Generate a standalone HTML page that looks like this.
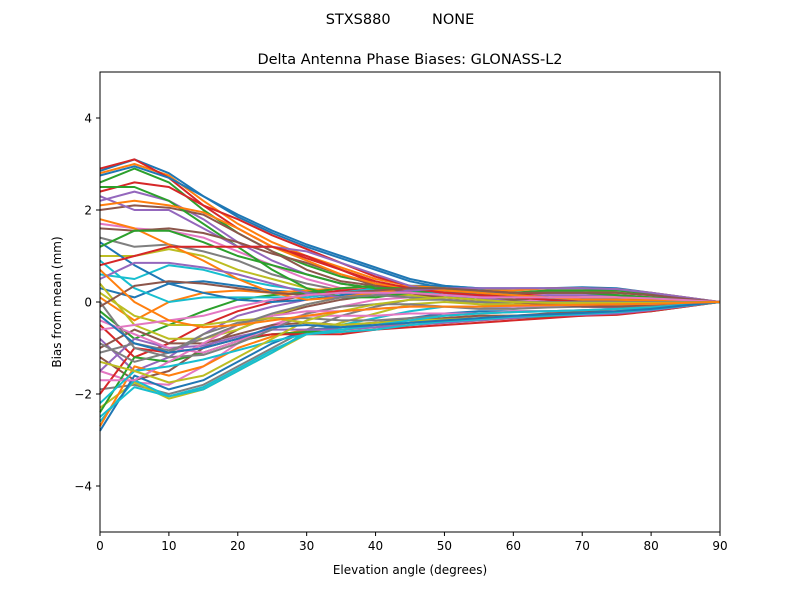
<!DOCTYPE html>
<html><head><meta charset="utf-8"><style>
body{margin:0;background:#fff;font-family:"Liberation Sans","DejaVu Sans",sans-serif;}
svg text{font-family:"DejaVu Sans","Liberation Sans",sans-serif;}
</style></head><body>
<svg id="c" width="800" height="600" xmlns="http://www.w3.org/2000/svg">
<rect width="800" height="600" fill="#fff"/>
<text x="400" y="24" text-anchor="middle" font-size="14.5" xml:space="preserve">STXS880         NONE</text>
<text x="410" y="64" text-anchor="middle" font-size="14.5">Delta Antenna Phase Biases: GLONASS-L2</text>
<text x="410" y="574" text-anchor="middle" font-size="12">Elevation angle (degrees)</text>
<text transform="translate(61,302) rotate(-90)" text-anchor="middle" font-size="12">Bias from mean (mm)</text>
<g id="lines"></g>
<g id="axes"></g>
</svg>
<script>
const elevations=[0,5,10,15,20,25,30,35,40,45,50,55,60,65,70,75,80,85,90];
const xTicks=[0,10,20,30,40,50,60,70,80,90];
const yTicks=[-4,-2,0,2,4];
const yTickLabels=["\u22124","\u22122","0","2","4"];
const s01=[2.85,3.1,2.8,2.3,1.85,1.5,1.2,0.95,0.7,0.45,0.3,0.2,0.1,0.05,0,-0.05,-0.05,-0.03,0];
const s02=[2.8,3.0,2.75,2.2,1.7,1.3,1.0,0.75,0.5,0.35,0.25,0.15,0.05,0,-0.05,-0.05,-0.05,-0.02,0];
const s03=[2.6,2.9,2.6,2.0,1.5,1.1,0.8,0.55,0.4,0.3,0.2,0.1,0.05,0,-0.05,-0.08,-0.06,-0.03,0];
const s04=[2.4,2.6,2.5,2.1,1.8,1.45,1.15,0.85,0.55,0.35,0.2,0.1,0,-0.05,-0.1,-0.1,-0.08,-0.03,0];
const s05=[2.2,2.4,2.2,1.8,1.3,0.9,0.6,0.4,0.3,0.25,0.2,0.15,0.1,0.05,0,-0.02,-0.03,-0.02,0];
const s06=[2.0,2.1,2.05,1.9,1.5,1.1,0.7,0.45,0.35,0.3,0.25,0.15,0.1,0.1,0.05,0.05,0.03,0.02,0];
const s07=[1.7,1.6,1.55,1.4,1.1,0.8,0.5,0.3,0.2,0.2,0.2,0.15,0.15,0.15,0.1,0.1,0.08,0.04,0];
const s08=[1.4,1.2,1.25,1.1,0.9,0.6,0.4,0.25,0.2,0.25,0.25,0.2,0.2,0.2,0.2,0.15,0.1,0.05,0];
const s09=[1.0,1.0,1.15,1.0,0.7,0.5,0.3,0.2,0.2,0.3,0.3,0.25,0.2,0.25,0.25,0.2,0.15,0.05,0];
const s10=[0.6,0.5,0.8,0.7,0.5,0.35,0.25,0.2,0.25,0.35,0.35,0.3,0.25,0.3,0.3,0.25,0.2,0.08,0];
const s11=[0.3,0.1,0.4,0.45,0.35,0.25,0.2,0.2,0.3,0.35,0.35,0.3,0.3,0.3,0.32,0.3,0.2,0.1,0];
const s12=[0.1,-0.4,0.0,0.2,0.25,0.2,0.25,0.3,0.35,0.35,0.3,0.25,0.25,0.3,0.3,0.28,0.2,0.1,0];
const s13=[-0.2,-0.8,-0.5,-0.2,0.05,0.15,0.2,0.3,0.35,0.3,0.25,0.2,0.2,0.25,0.25,0.25,0.18,0.08,0];
const s14=[-0.5,-1.2,-0.9,-0.5,-0.2,0.0,0.15,0.25,0.3,0.25,0.2,0.15,0.15,0.2,0.2,0.2,0.15,0.07,0];
const s15=[-0.8,-1.5,-1.2,-0.7,-0.3,-0.1,0.05,0.15,0.2,0.2,0.15,0.1,0.1,0.15,0.15,0.15,0.1,0.05,0];
const s16=[-1.2,-1.7,-1.5,-1.0,-0.6,-0.3,-0.1,0.05,0.15,0.15,0.1,0.05,0.05,0.1,0.1,0.1,0.08,0.04,0];
const s17=[-1.5,-1.75,-1.8,-1.4,-0.9,-0.5,-0.25,-0.1,0.05,0.1,0.05,0,0,0.05,0.05,0.05,0.05,0.02,0];
const s18=[-1.9,-1.8,-2.0,-1.8,-1.4,-1.0,-0.6,-0.3,-0.1,0.05,0.05,0,-0.05,0,0,0,0,0,0];
const s19=[-2.3,-1.75,-2.1,-1.9,-1.5,-1.1,-0.7,-0.45,-0.25,-0.05,0,-0.05,-0.1,-0.05,-0.05,-0.05,-0.03,-0.02,0];
const s20=[-2.6,-1.7,-2.05,-1.9,-1.5,-1.1,-0.65,-0.5,-0.35,-0.2,-0.1,-0.1,-0.15,-0.1,-0.1,-0.1,-0.08,-0.04,0];
const s21=[-2.8,-1.6,-1.9,-1.7,-1.3,-0.9,-0.6,-0.55,-0.45,-0.35,-0.25,-0.2,-0.2,-0.2,-0.2,-0.15,-0.12,-0.06,0];
const s22=[-2.7,-1.4,-1.6,-1.4,-1.0,-0.75,-0.6,-0.6,-0.55,-0.45,-0.35,-0.3,-0.3,-0.3,-0.25,-0.2,-0.15,-0.08,0];
const s23=[-2.4,-1.2,-1.3,-1.1,-0.85,-0.7,-0.65,-0.65,-0.6,-0.5,-0.45,-0.4,-0.35,-0.32,-0.3,-0.25,-0.2,-0.1,0];
const s24=[-2.0,-1.0,-1.1,-1.0,-0.8,-0.7,-0.7,-0.7,-0.6,-0.55,-0.5,-0.45,-0.4,-0.35,-0.3,-0.28,-0.2,-0.1,0];
const s25=[-1.5,-0.8,-1.0,-0.95,-0.75,-0.6,-0.6,-0.6,-0.55,-0.5,-0.45,-0.4,-0.35,-0.3,-0.28,-0.25,-0.18,-0.09,0];
const s26=[-1.0,-0.6,-0.9,-0.9,-0.7,-0.5,-0.45,-0.5,-0.45,-0.4,-0.35,-0.3,-0.3,-0.25,-0.22,-0.2,-0.15,-0.08,0];
const s27=[-0.4,-0.7,-1.0,-1.1,-0.85,-0.55,-0.3,-0.3,-0.3,-0.25,-0.25,-0.25,-0.2,-0.2,-0.18,-0.15,-0.12,-0.06,0];
const s28=[0.0,-1.0,-1.2,-1.15,-0.9,-0.6,-0.25,-0.1,-0.05,-0.05,-0.1,-0.15,-0.15,-0.12,-0.1,-0.1,-0.08,-0.04,0];
const s29=[0.4,-0.5,-0.8,-0.8,-0.6,-0.3,-0.05,0.1,0.2,0.15,0.05,-0.05,-0.05,-0.05,-0.05,-0.05,-0.04,-0.02,0];
const s30=[0.9,0.3,0.0,0.1,0.1,0.1,0.1,0.2,0.3,0.25,0.15,0.05,0,0,0,0,0,0,0];
const s31=[1.3,0.8,0.4,0.2,0.05,0.0,0.05,0.15,0.25,0.3,0.25,0.15,0.1,0.05,0.05,0.05,0.03,0.02,0];
const s32=[1.8,1.6,1.25,0.9,0.5,0.2,0.05,0.1,0.2,0.3,0.3,0.2,0.15,0.1,0.1,0.1,0.06,0.03,0];
const s33=[2.5,2.5,2.2,1.7,1.2,0.7,0.3,0.1,0.1,0.2,0.25,0.2,0.15,0.1,0.05,0.05,0.03,0.02,0];
const s34=[2.9,3.1,2.7,2.1,1.6,1.2,0.95,0.7,0.4,0.2,0.1,0.05,0,-0.05,-0.08,-0.1,-0.08,-0.04,0];
const s35=[2.3,2.0,2.0,1.6,1.2,1.2,1.1,0.85,0.6,0.35,0.2,0.1,0.0,-0.05,-0.1,-0.12,-0.1,-0.05,0];
const s36=[1.6,1.55,1.6,1.5,1.3,1.05,0.85,0.6,0.35,0.2,0.1,0.05,0.0,-0.05,-0.1,-0.1,-0.08,-0.04,0];
const s37=[-1.7,-1.7,-1.3,-0.9,-0.5,-0.3,-0.2,-0.2,-0.15,-0.1,-0.1,-0.1,-0.1,-0.08,-0.06,-0.05,-0.04,-0.02,0];
const s38=[-0.9,-1.3,-1.1,-0.7,-0.45,-0.35,-0.35,-0.4,-0.4,-0.35,-0.3,-0.25,-0.22,-0.2,-0.18,-0.15,-0.1,-0.05,0];
const s39=[0.2,-0.3,-0.5,-0.5,-0.4,-0.35,-0.45,-0.5,-0.45,-0.4,-0.38,-0.35,-0.3,-0.28,-0.25,-0.2,-0.15,-0.07,0];
const s40=[-2.2,-1.5,-1.4,-1.25,-1.05,-0.85,-0.7,-0.65,-0.6,-0.5,-0.42,-0.38,-0.32,-0.3,-0.26,-0.22,-0.16,-0.08,0];
const s41=[2.75,2.95,2.7,2.3,1.9,1.55,1.25,1.0,0.75,0.5,0.35,0.25,0.15,0.1,0.05,0,-0.02,-0.01,0];
const s42=[2.1,2.2,2.1,1.95,1.6,1.2,0.9,0.6,0.4,0.3,0.25,0.2,0.15,0.1,0.05,0.05,0.03,0.02,0];
const s43=[1.2,1.55,1.55,1.3,1.0,0.8,0.6,0.4,0.3,0.3,0.3,0.25,0.2,0.2,0.2,0.15,0.1,0.05,0];
const s44=[0.8,1.0,1.2,1.2,1.2,1.2,1.0,0.7,0.45,0.3,0.2,0.15,0.1,0.05,0,0,0,0,0];
const s45=[0.5,0.85,0.85,0.75,0.6,0.4,0.2,0.1,0.15,0.25,0.3,0.3,0.3,0.3,0.3,0.28,0.2,0.1,0];
const s46=[-0.1,0.35,0.45,0.4,0.3,0.2,0.15,0.2,0.25,0.3,0.3,0.25,0.2,0.2,0.2,0.2,0.15,0.07,0];
const s47=[-0.6,-0.5,-0.4,-0.3,-0.1,0.05,0.15,0.2,0.2,0.2,0.15,0.1,0.1,0.1,0.1,0.1,0.08,0.04,0];
const s48=[-1.1,-0.9,-1.05,-0.8,-0.5,-0.25,-0.05,0.1,0.15,0.1,0.05,0,0,0,0,0,0,0,0];
const s49=[-1.3,-1.5,-1.75,-1.6,-1.2,-0.8,-0.4,-0.2,-0.05,0.05,0.1,0.05,0,-0.02,-0.02,-0.02,-0.02,-0.01,0];
const s50=[-2.5,-1.85,-2.05,-1.85,-1.45,-1.05,-0.7,-0.6,-0.5,-0.4,-0.3,-0.25,-0.22,-0.2,-0.18,-0.15,-0.12,-0.06,0];
const s51=[-0.3,-0.9,-1.1,-1.0,-0.8,-0.55,-0.5,-0.55,-0.5,-0.45,-0.4,-0.35,-0.3,-0.27,-0.24,-0.2,-0.15,-0.07,0];
const s52=[0.7,0.0,-0.4,-0.55,-0.5,-0.4,-0.3,-0.2,-0.15,-0.1,-0.1,-0.1,-0.08,-0.07,-0.06,-0.05,-0.04,-0.02,0];
const series=[s01,s02,s03,s04,s05,s06,s07,s08,s09,s10,s11,s12,s13,s14,s15,s16,s17,s18,s19,s20,s21,s22,s23,s24,s25,s26,s27,s28,s29,s30,s31,s32,s33,s34,s35,s36,s37,s38,s39,s40,s41,s42,s43,s44,s45,s46,s47,s48,s49,s50,s51,s52];
const colors=["#1f77b4","#ff7f0e","#2ca02c","#d62728","#9467bd","#8c564b","#e377c2","#7f7f7f","#bcbd22","#17becf"];
const L=100,R=720,T=72,B=532,X0=0,X1=90,Y0=-5,Y1=5;
const xs=v=>L+(v-X0)/(X1-X0)*(R-L);
const ys=v=>B-(v-Y0)/(Y1-Y0)*(B-T);
const NS="http://www.w3.org/2000/svg";
const lg=document.getElementById('lines');
series.forEach((s,i)=>{
  const p=document.createElementNS(NS,'polyline');
  p.setAttribute('points',s.map((v,j)=>xs(elevations[j]).toFixed(2)+','+ys(v).toFixed(2)).join(' '));
  p.setAttribute('fill','none');
  p.setAttribute('stroke',colors[i%10]);
  p.setAttribute('stroke-width','2');
  p.setAttribute('stroke-linejoin','round');
  
  
  lg.appendChild(p);
});
const ax=document.getElementById('axes');
ax.innerHTML='<rect x="'+L+'" y="'+T+'" width="'+(R-L)+'" height="'+(B-T)+'" fill="none" stroke="#000" stroke-width="1"/>';
xTicks.forEach(t=>{
  const x=xs(t);
  const l=document.createElementNS(NS,'line');
  l.setAttribute('x1',x);l.setAttribute('x2',x);l.setAttribute('y1',B);l.setAttribute('y2',B+4);l.setAttribute('stroke','#000');
  
  
  ax.appendChild(l);
  const tx=document.createElementNS(NS,'text');
  tx.setAttribute('x',x);tx.setAttribute('y',B+18);tx.setAttribute('text-anchor','middle');tx.setAttribute('font-size','12');
  tx.textContent=t;
  
  
  ax.appendChild(tx);
});
yTicks.forEach((t,i)=>{
  const y=ys(t);
  const l=document.createElementNS(NS,'line');
  l.setAttribute('x1',L-4);l.setAttribute('x2',L);l.setAttribute('y1',y);l.setAttribute('y2',y);l.setAttribute('stroke','#000');
  
  
  ax.appendChild(l);
  const tx=document.createElementNS(NS,'text');
  tx.setAttribute('x',L-8);tx.setAttribute('y',y+4.5);tx.setAttribute('text-anchor','end');tx.setAttribute('font-size','12');
  tx.textContent=yTickLabels[i];
  
  
  ax.appendChild(tx);
});
</script>
</body></html>
